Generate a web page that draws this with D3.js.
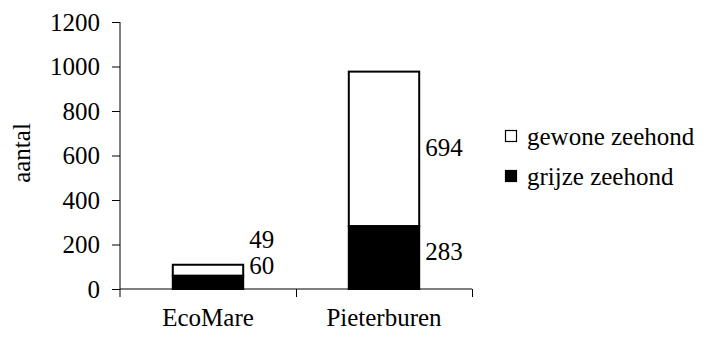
<!DOCTYPE html>
<html><head><meta charset="utf-8">
<script src="https://cdn.jsdelivr.net/npm/d3@7"></script>
<style>body{margin:0;background:#fff}svg{display:block}</style>
</head><body>
<svg id="c" width="708" height="338"></svg>
<script>
const categories = ["EcoMare", "Pieterburen"];
const grijze = [60, 283];
const gewone = [49, 694];
const seriesNames = ["gewone zeehond", "grijze zeehond"];
const yTicks = [0, 200, 400, 600, 800, 1000, 1200];

const FONT = "'Liberation Serif'";
const svg = d3.select("#c");
const m = {left: 120, right: 472, top: 22, bottom: 289};
const fs = 25;

const x = d3.scaleBand().domain(categories).range([m.left, m.right]).paddingInner(0.6).paddingOuter(0.3);
const y = d3.scaleLinear().domain([0, 1200]).range([m.bottom, m.top]);

function txt(sel) { return sel.style("font-family", FONT).style("font-size", fs + "px").attr("fill", "#000"); }

// y axis
const yAxis = svg.append("g").attr("transform", `translate(${m.left},0)`)
  .call(d3.axisLeft(y).tickValues(yTicks).tickSize(8).tickPadding(12).tickFormat(d3.format("d")));
yAxis.select(".domain").attr("stroke", "#000").attr("d", `M0,${m.top}V${m.bottom + 8}`);
yAxis.selectAll(".tick line").attr("stroke", "#000");
txt(yAxis.selectAll(".tick text"));

// x axis
const xb = d3.scaleLinear().domain([0, categories.length]).range([m.left, m.right]);
const xAxis = svg.append("g").attr("transform", `translate(0,${m.bottom})`)
  .call(d3.axisBottom(xb).tickValues(d3.range(1, categories.length + 1)).tickSize(8).tickFormat(""));
xAxis.select(".domain").attr("stroke", "#000").attr("d", `M${m.left},0H${m.right}`);
xAxis.selectAll(".tick line").attr("stroke", "#000");

txt(svg.append("g").selectAll("text").data(categories).join("text")
  .attr("x", d => x(d) + x.bandwidth() / 2).attr("y", 326)
  .attr("text-anchor", "middle").text(d => d));

// stacked bars
const rows = categories.map((c, i) => ({cat: c, grijze: grijze[i], gewone: gewone[i]}));
const stack = d3.stack().keys(["grijze", "gewone"])(rows);
const fills = {grijze: "#000", gewone: "#fff"};
stack.forEach(s => {
  svg.append("g").selectAll("rect").data(s).join("rect")
    .attr("x", d => x(d.data.cat)).attr("width", x.bandwidth())
    .attr("y", d => y(d[1])).attr("height", d => y(d[0]) - y(d[1]))
    .attr("fill", fills[s.key]).attr("stroke", "#000").attr("stroke-width", 2);
});

// value labels
const minGap = 26;
rows.forEach((r, i) => {
  const low = stack[0][i], up = stack[1][i];
  let yl = (y(low[0]) + y(low[1])) / 2 - 6;
  let yu = (y(up[0]) + y(up[1])) / 2 - 2;
  if (yl - yu < minGap) { yl = y(up[1]) + 1; yu = yl - minGap; }
  const lx = x(r.cat) + x.bandwidth() + 6;
  txt(svg.append("text").attr("x", lx).attr("y", yl).attr("dy", "0.35em").text(r.grijze));
  txt(svg.append("text").attr("x", lx).attr("y", yu).attr("dy", "0.35em").text(r.gewone));
});

// y label
txt(svg.append("text").attr("transform", "translate(30,153) rotate(-90)")
  .attr("text-anchor", "middle").text("aantal"));

// legend
const leg = svg.append("g");
const legKeys = ["gewone", "grijze"];
legKeys.forEach((k, i) => {
  const cy = 136 + i * 40;
  leg.append("rect").attr("x", 505.5).attr("y", cy - 5.5).attr("width", 11).attr("height", 11)
    .attr("fill", fills[k]).attr("stroke", "#000").attr("stroke-width", 1.2);
  txt(leg.append("text").attr("x", 527).attr("y", cy).attr("dy", "0.35em").text(seriesNames[i]));
});
</script>
</body></html>
